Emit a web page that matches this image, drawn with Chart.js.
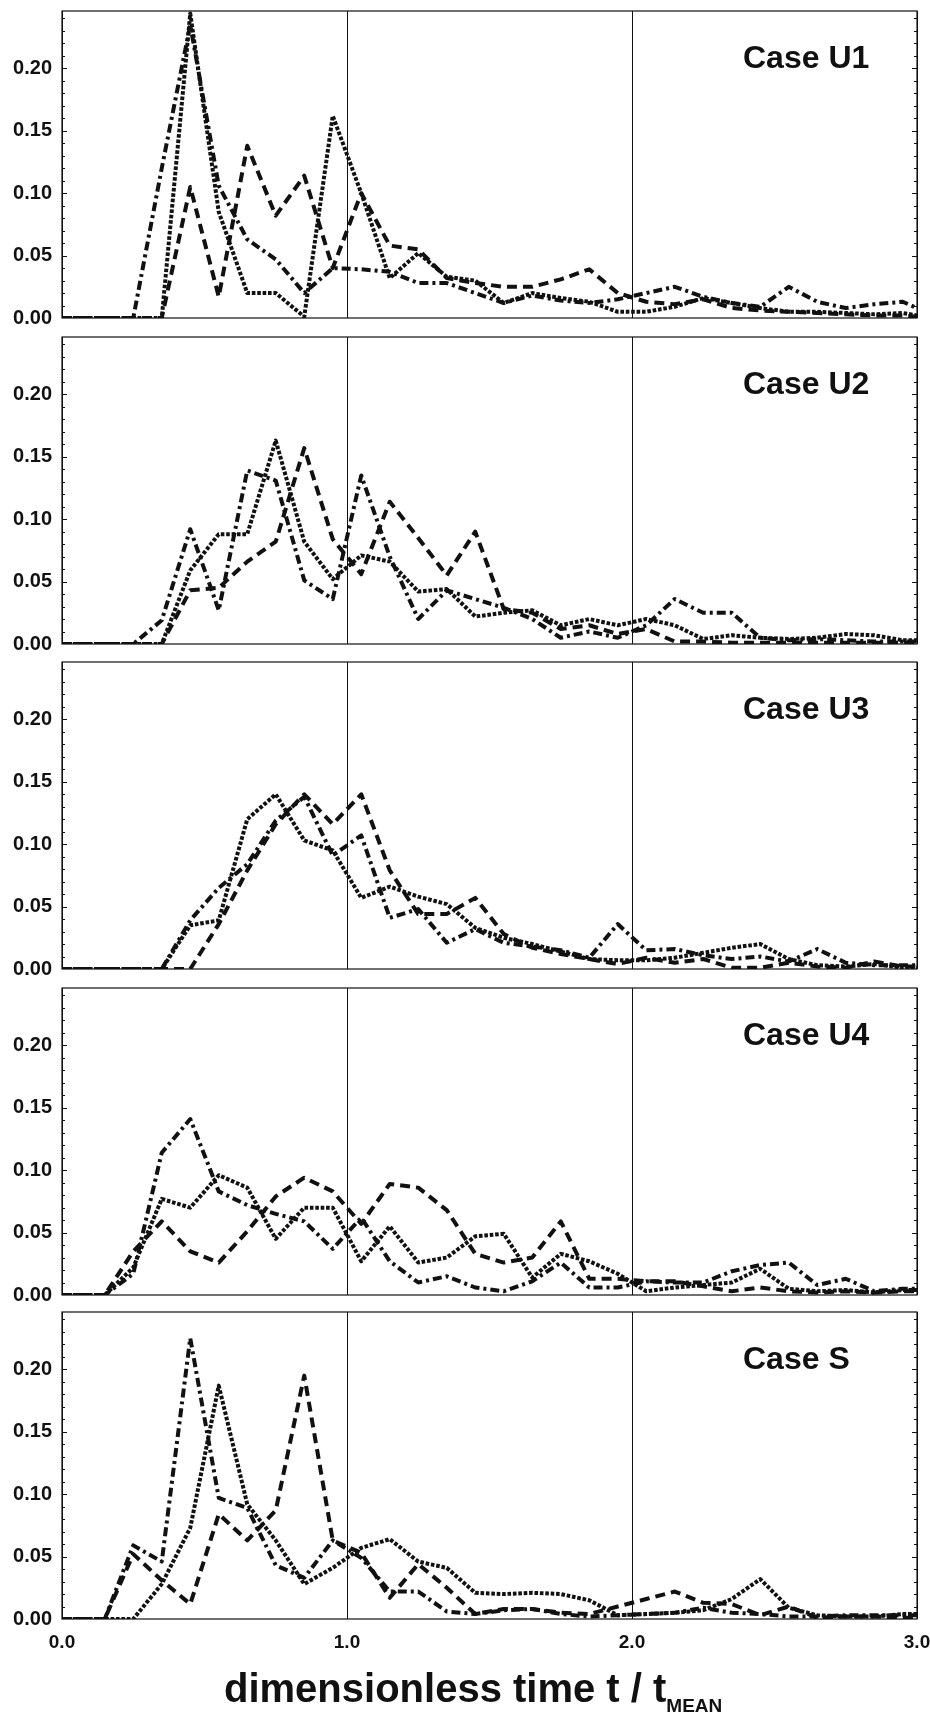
<!DOCTYPE html>
<html>
<head>
<meta charset="utf-8">
<title>Residence time distributions</title>
<script src="https://cdn.jsdelivr.net/npm/chart.js@4/dist/chart.umd.min.js"></script>
<style>
  html, body { margin: 0; padding: 0; background: #fff; }
  body { width: 930px; height: 1718px; position: relative; overflow: hidden; }
  .panel { position: absolute; left: 0; width: 930px; }
  .xtitle {
    position: absolute; left: 224px; top: 1668px; white-space: nowrap;
    font: bold 40px "Liberation Sans", Arial, Helvetica, sans-serif; line-height: 40px; color: #111;
  }
  .xtitle .sub { font-size: 19px; position: relative; top: 10px; }
</style>
</head>
<body>
<div id="p0" class="panel"><canvas id="c0"></canvas></div>
<div id="p1" class="panel"><canvas id="c1"></canvas></div>
<div id="p2" class="panel"><canvas id="c2"></canvas></div>
<div id="p3" class="panel"><canvas id="c3"></canvas></div>
<div id="p4" class="panel"><canvas id="c4"></canvas></div>
<div class="xtitle">dimensionless time t / t<span class="sub">MEAN</span></div>
<script>
// dimensionless time t / t_MEAN at which each series is sampled
const T = [0, 0.05, 0.15, 0.25, 0.35, 0.45, 0.55, 0.65, 0.75, 0.85, 0.95, 1.05, 1.15, 1.25, 1.35, 1.45,
           1.55, 1.65, 1.75, 1.85, 1.95, 2.05, 2.15, 2.25, 2.35, 2.45, 2.55, 2.65, 2.75, 2.85, 2.95, 3.0];

// Case U1
const u1Dotted  = [0, 0, 0, 0, 0, 0.244, 0.085, 0.020, 0.020, 0.001, 0.162, 0.100, 0.032, 0.052, 0.033, 0.030,
                   0.012, 0.020, 0.016, 0.013, 0.005, 0.005, 0.009, 0.016, 0.012, 0.008, 0.005, 0.005, 0.004, 0.003, 0.004, 0.002];
const u1Dashed  = [0, 0, 0, 0, 0, 0.105, 0.017, 0.138, 0.082, 0.114, 0.040, 0.100, 0.058, 0.055, 0.032, 0.028,
                   0.025, 0.025, 0.031, 0.039, 0.020, 0.013, 0.011, 0.015, 0.008, 0.006, 0.005, 0.004, 0.003, 0.002, 0.002, 0.001];
const u1DashDot = [0, 0, 0, 0, 0.120, 0.235, 0.106, 0.063, 0.047, 0.020, 0.040, 0.039, 0.037, 0.028, 0.028, 0.020,
                   0.012, 0.018, 0.014, 0.012, 0.015, 0.020, 0.025, 0.017, 0.012, 0.009, 0.025, 0.013, 0.008, 0.011, 0.013, 0.008];

// Case U2
const u2Dotted  = [0, 0, 0, 0, 0, 0.059, 0.088, 0.088, 0.163, 0.082, 0.052, 0.071, 0.066, 0.042, 0.044, 0.022,
                   0.025, 0.027, 0.015, 0.020, 0.015, 0.020, 0.015, 0.004, 0.007, 0.005, 0.004, 0.005, 0.008, 0.007, 0.003, 0.003];
const u2Dashed  = [0, 0, 0, 0, 0, 0.043, 0.045, 0.066, 0.082, 0.157, 0.084, 0.056, 0.114, 0.085, 0.055, 0.090,
                   0.028, 0.025, 0.012, 0.015, 0.008, 0.012, 0.002, 0.002, 0.001, 0.001, 0.001, 0.001, 0.001, 0.001, 0.001, 0.001];
const u2DashDot = [0, 0, 0, 0, 0.019, 0.092, 0.027, 0.139, 0.131, 0.051, 0.036, 0.135, 0.070, 0.020, 0.043, 0.036,
                   0.029, 0.020, 0.005, 0.010, 0.005, 0.015, 0.036, 0.025, 0.025, 0.005, 0.003, 0.004, 0.003, 0.002, 0.002, 0.002];

// Case U3
const u3Dotted  = [0, 0, 0, 0, 0, 0.035, 0.039, 0.120, 0.140, 0.103, 0.095, 0.057, 0.066, 0.058, 0.052, 0.033,
                   0.025, 0.020, 0.014, 0.008, 0.007, 0.007, 0.009, 0.013, 0.017, 0.020, 0.008, 0.003, 0.002, 0.004, 0.001, 0.001];
const u3Dashed  = [0, 0, 0, 0, 0, 0, 0.036, 0.079, 0.116, 0.140, 0.116, 0.140, 0.079, 0.044, 0.044, 0.057,
                   0.028, 0.017, 0.012, 0.008, 0.004, 0.009, 0.005, 0.008, 0.001, 0.001, 0.005, 0.002, 0.001, 0.006, 0.002, 0.002];
const u3DashDot = [0, 0, 0, 0, 0, 0.039, 0.065, 0.084, 0.119, 0.138, 0.091, 0.107, 0.041, 0.048, 0.021, 0.032,
                   0.021, 0.018, 0.015, 0.009, 0.036, 0.015, 0.016, 0.011, 0.008, 0.010, 0.006, 0.016, 0.005, 0.003, 0.003, 0.003];

// Case U4
const u4Dotted  = [0, 0, 0, 0.022, 0.077, 0.070, 0.096, 0.086, 0.045, 0.070, 0.070, 0.027, 0.055, 0.026, 0.030, 0.047,
                   0.049, 0.014, 0.033, 0.027, 0.017, 0.003, 0.006, 0.008, 0.010, 0.021, 0.005, 0.003, 0.004, 0.002, 0.004, 0.004];
const u4Dashed  = [0, 0, 0, 0.035, 0.059, 0.035, 0.026, 0.051, 0.079, 0.094, 0.083, 0.057, 0.089, 0.086, 0.068, 0.033,
                   0.026, 0.030, 0.059, 0.013, 0.013, 0.011, 0.011, 0.007, 0.003, 0.006, 0.003, 0.002, 0.003, 0.002, 0.003, 0.003];
const u4DashDot = [0, 0, 0, 0.017, 0.114, 0.141, 0.083, 0.072, 0.065, 0.059, 0.037, 0.062, 0.027, 0.010, 0.015, 0.006,
                   0.003, 0.011, 0.026, 0.006, 0.006, 0.011, 0.010, 0.010, 0.019, 0.024, 0.026, 0.008, 0.013, 0.003, 0.005, 0.005];

// Case S
const sDotted   = [0, 0, 0, 0, 0.028, 0.073, 0.187, 0.092, 0.063, 0.028, 0.041, 0.057, 0.064, 0.046, 0.041, 0.021,
                   0.020, 0.021, 0.020, 0.015, 0.003, 0.004, 0.005, 0.007, 0.016, 0.032, 0.009, 0.003, 0.002, 0.002, 0.004, 0.004];
const sDashed   = [0, 0, 0, 0.052, 0.031, 0.012, 0.084, 0.063, 0.087, 0.195, 0.063, 0.053, 0.017, 0.044, 0.025, 0.004,
                   0.008, 0.008, 0.005, 0.004, 0.010, 0.016, 0.022, 0.013, 0.012, 0.003, 0.010, 0.001, 0.002, 0.002, 0.001, 0.001];
const sDashDot  = [0, 0, 0, 0.059, 0.046, 0.225, 0.097, 0.089, 0.043, 0.033, 0.063, 0.049, 0.022, 0.022, 0.006, 0.004,
                   0.007, 0.008, 0.004, 0.002, 0.003, 0.004, 0.005, 0.009, 0.005, 0.004, 0.002, 0.002, 0.003, 0.003, 0.003, 0.003];

const caseLabels = ['Case U1', 'Case U2', 'Case U3', 'Case U4', 'Case S'];
const caseSeries = [
  [u1Dotted, u1Dashed, u1DashDot],
  [u2Dotted, u2Dashed, u2DashDot],
  [u3Dotted, u3Dashed, u3DashDot],
  [u4Dotted, u4Dashed, u4DashDot],
  [sDotted,  sDashed,  sDashDot]
];
const yTickLabels = ['0.00', '0.05', '0.10', '0.15', '0.20'];
const xTickLabels = ['0.0', '1.0', '2.0', '3.0'];

// ---- layout ----
const INK = '#111';
const FONT = '"Liberation Sans", Arial, Helvetica, sans-serif';
const panelTops = [11, 337, 662, 988, 1312];
const plotH = 307;
const padTop = 14;      // room above the plot for the top tick label
const padBottom = 14;   // room below the plot for the "0.00" label
const Y_MAX = 0.246;

const lineStyles = [
  { borderDash: [3.6, 1.8] },          // dotted
  { borderDash: [10, 6] },             // dashed
  { borderDash: [9, 4, 3, 4] }         // dash-dot
];

// frame, inward y tick marks and case label
const panelDecor = {
  id: 'panelDecor',
  afterDatasetsDraw(chart, args, opts) {
    const { ctx, chartArea: a } = chart;
    const y = chart.scales.y;
    ctx.save();
    ctx.strokeStyle = INK;
    ctx.lineWidth = 1.2;
    ctx.setLineDash([]);
    ctx.strokeRect(a.left, a.top, a.right - a.left, a.bottom - a.top);
    ctx.lineWidth = 1;
    for (let k = 1; k <= 24; k++) {
      const py = Math.round(y.getPixelForValue(k / 100)) + 0.5;
      const len = (k % 5 === 0) ? 5 : 3;
      ctx.beginPath();
      ctx.moveTo(a.left, py); ctx.lineTo(a.left + len, py);
      ctx.moveTo(a.right, py); ctx.lineTo(a.right - len, py);
      ctx.stroke();
    }
    ctx.fillStyle = INK;
    ctx.font = 'bold 32px ' + FONT;
    ctx.textAlign = 'left';
    ctx.textBaseline = 'alphabetic';
    ctx.fillText(opts.label, 743, a.top + 57);
    ctx.restore();
  }
};

caseSeries.forEach((series, p) => {
  const last = p === caseSeries.length - 1;
  const xH = last ? 48 : 2;
  const bottomPad = last ? 0 : padBottom;
  const holder = document.getElementById('p' + p);
  const canvas = document.getElementById('c' + p);
  const h = padTop + plotH + xH + bottomPad;
  holder.style.top = (panelTops[p] - padTop) + 'px';
  holder.style.height = h + 'px';
  canvas.width = 930; canvas.height = h;
  canvas.style.width = '930px'; canvas.style.height = h + 'px';

  const datasets = series.map((vals, s) => ({
    data: T.map((t, i) => ({ x: t, y: vals[i] })),
    borderColor: INK,
    borderWidth: 4,
    borderDash: lineStyles[s].borderDash,
    borderCapStyle: 'butt',
    borderJoinStyle: 'round',
    pointRadius: 0,
    tension: 0,
    fill: false
  }));

  new Chart(canvas, {
    type: 'line',
    data: { datasets },
    options: {
      responsive: false,
      animation: false,
      devicePixelRatio: 1,
      layout: { padding: { top: padTop, right: 13, bottom: bottomPad, left: 0 } },
      plugins: {
        legend: { display: false },
        tooltip: { enabled: false },
        panelDecor: { label: caseLabels[p] }
      },
      scales: {
        x: {
          type: 'linear', min: 0, max: 3,
          afterFit: s => { s.height = xH; s.paddingLeft = 0; s.paddingRight = 0; },
          border: { display: false },
          grid: { display: true, drawOnChartArea: true, drawTicks: false, color: INK, lineWidth: 1 },
          ticks: {
            display: last, stepSize: 1, padding: 12, maxRotation: 0,
            color: INK, font: { family: FONT, weight: 'bold', size: 19 },
            callback: v => xTickLabels[Math.round(v)]
          }
        },
        y: {
          type: 'linear', min: 0, max: Y_MAX,
          afterFit: s => { s.width = 62; s.paddingTop = 0; s.paddingBottom = 0; },
          border: { display: false },
          grid: { display: false, drawTicks: false },
          ticks: {
            stepSize: 0.05, includeBounds: false, padding: 10,
            color: INK, font: { family: FONT, weight: 'bold', size: 20 },
            callback: v => yTickLabels[Math.round(v / 0.05)]
          }
        }
      }
    },
    plugins: [panelDecor]
  });
});
</script>
</body>
</html>
